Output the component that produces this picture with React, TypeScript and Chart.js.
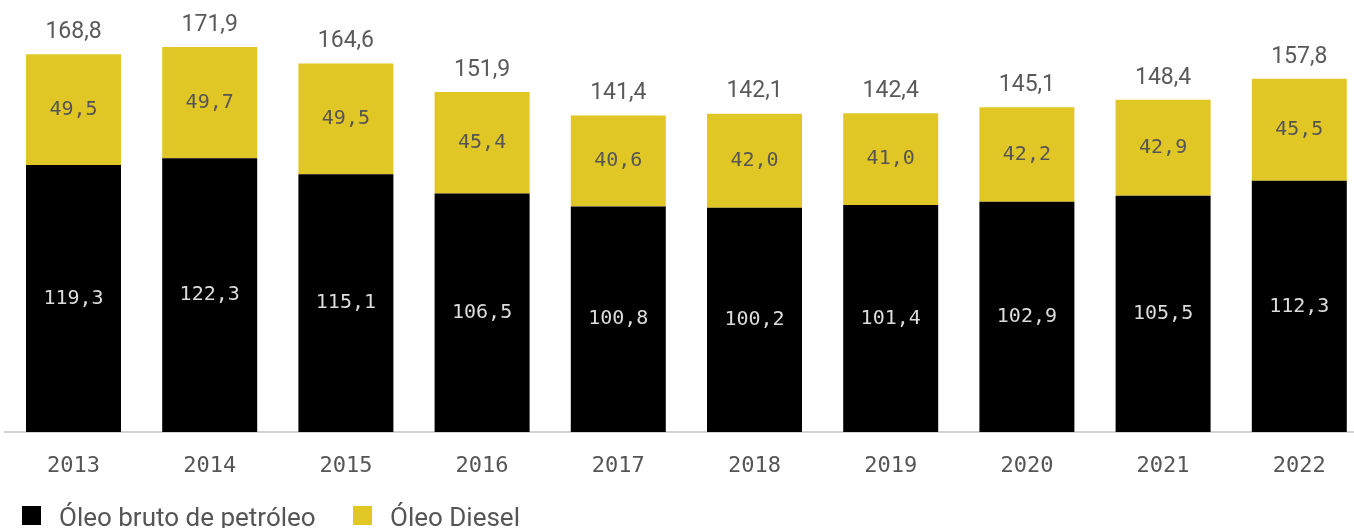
import React, { useEffect, useRef } from "react";
import { Chart, registerables } from "chart.js";

Chart.register(...registerables);

const years = ["2013", "2014", "2015", "2016", "2017", "2018", "2019", "2020", "2021", "2022"];
const crudeOil = [119.3, 122.3, 115.1, 106.5, 100.8, 100.2, 101.4, 102.9, 105.5, 112.3];
const diesel = [49.5, 49.7, 49.5, 45.4, 40.6, 42.0, 41.0, 42.2, 42.9, 45.5];
const totals = [168.8, 171.9, 164.6, 151.9, 141.4, 142.1, 142.4, 145.1, 148.4, 157.8];
const seriesNames = ["Óleo bruto de petróleo", "Óleo Diesel"];

const BLACK = "#000000";
const YELLOW = "#E0C726";

const fmt = (v: number) => v.toFixed(1).replace(".", ",");

const labelPlugin = {
  id: "barLabels",
  afterDatasetsDraw(chart: any) {
    const ctx = chart.ctx;
    ctx.save();
    ctx.textAlign = "center";
    ctx.textBaseline = "middle";
    chart.data.datasets.forEach((ds: any, di: number) => {
      const meta = chart.getDatasetMeta(di);
      meta.data.forEach((bar: any, i: number) => {
        const p = bar.getProps(["x", "y", "base"], true);
        ctx.font = '20px "DejaVu Sans Mono"';
        ctx.fillStyle = di === 0 ? "#dcdcdc" : "#555555";
        ctx.fillText(fmt(ds.data[i]), p.x, (p.y + p.base) / 2);
        if (di === chart.data.datasets.length - 1) {
          ctx.font = '23px Roboto';
          ctx.fillStyle = "#5a5a5a";
          ctx.fillText(fmt(totals[i]), p.x, p.y - 22);
        }
      });
    });
    ctx.restore();
  },
};

export default function App() {
  const canvasRef = useRef<HTMLCanvasElement | null>(null);

  useEffect(() => {
    if (!canvasRef.current) return;
    const chart = new Chart(canvasRef.current, {
      type: "bar",
      data: {
        labels: years,
        datasets: [
          { label: seriesNames[0], data: crudeOil, backgroundColor: BLACK, borderWidth: 0 },
          { label: seriesNames[1], data: diesel, backgroundColor: YELLOW, borderWidth: 0 },
        ],
      },
      options: {
        animation: false,
        responsive: true,
        maintainAspectRatio: false,
        layout: { padding: { left: 5.4, right: 0.6, top: 0, bottom: 0 } },
        plugins: { legend: { display: false }, tooltip: { enabled: false } },
        datasets: { bar: { categoryPercentage: 1, barPercentage: 0.6975 } },
        scales: {
          x: {
            stacked: true,
            grid: { display: false, drawTicks: false },
            border: { display: true, color: "#d2d2d2", width: 2 },
            ticks: {
              color: "#555555",
              font: { family: "DejaVu Sans Mono", size: 22 },
              padding: 21,
              maxRotation: 0,
            },
            afterFit: (scale: any) => {
              scale.height = 96;
            },
          },
          y: {
            stacked: true,
            display: false,
            min: 0,
            max: 193,
          },
        },
      },
      plugins: [labelPlugin],
    });
    return () => chart.destroy();
  }, []);

  const legendText: React.CSSProperties = {
    position: "absolute",
    top: 504,
    fontFamily: "Roboto",
    fontSize: 26,
    lineHeight: "26px",
    color: "#555555",
    whiteSpace: "nowrap",
  };
  const box: React.CSSProperties = { position: "absolute", top: 506, width: 19, height: 19 };

  return (
    <div style={{ position: "absolute", left: 0, top: 0, width: 1354, height: 528, overflow: "hidden", background: "#fff" }}>
      <div style={{ position: "absolute", left: 0, top: 0, width: 1368, height: 528 }}>
        <canvas ref={canvasRef} />
      </div>
      <div style={{ ...box, left: 22, background: BLACK }} />
      <div style={{ ...legendText, left: 59 }}>{seriesNames[0]}</div>
      <div style={{ ...box, left: 353, background: YELLOW }} />
      <div style={{ ...legendText, left: 390 }}>{seriesNames[1]}</div>
    </div>
  );
}
